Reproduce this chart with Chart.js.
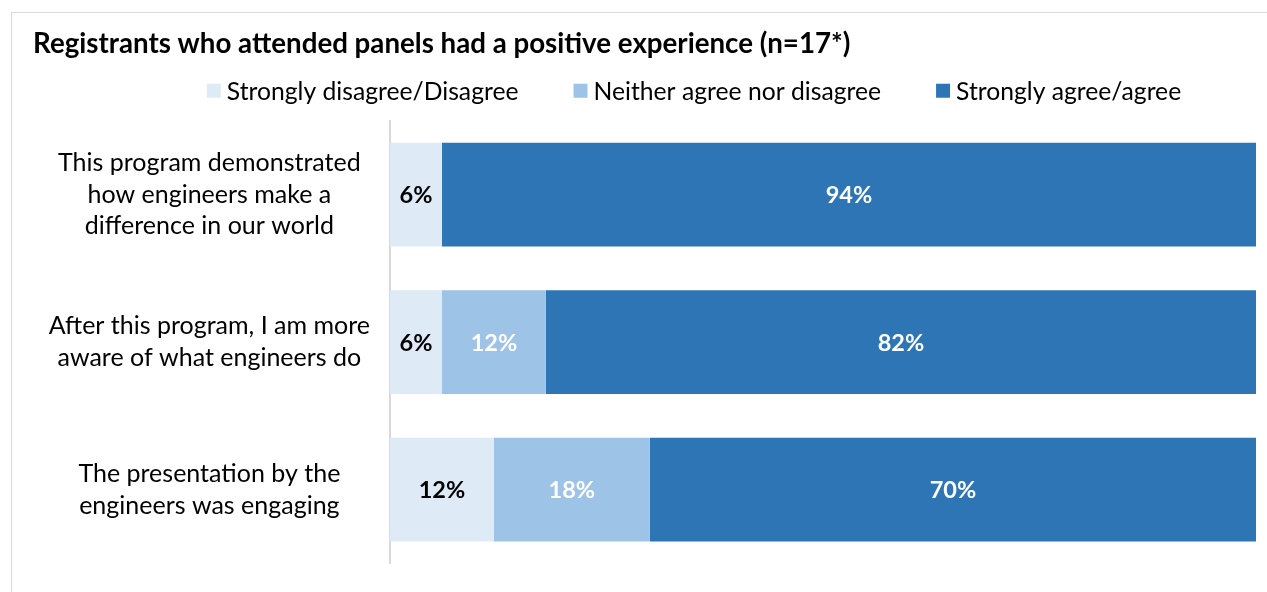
<!DOCTYPE html>
<html>
<head>
<meta charset="utf-8">
<script src="https://cdn.jsdelivr.net/npm/chart.js@4"></script>
<style>
    html, body { margin: 0; padding: 0; background: #fff; overflow: hidden; }
    #frame {
        position: absolute; left: 11px; top: 12px; width: 1300px; height: 640px;
        border-left: 1px solid #d9d9d9; border-top: 1px solid #d9d9d9;
    }
    #box { position: absolute; left: 0; top: 0; width: 1255px; height: 579px; }
</style>
</head>
<body>
<div id="frame"><div id="box"><canvas id="myChart"></canvas></div></div>
<script>
const categories = [
    ['This program demonstrated', 'how engineers make a', 'difference in our world'],
    ['After this program, I am more', 'aware of what engineers do'],
    ['The presentation by the', 'engineers was engaging']
];
const seriesNames = ['Strongly disagree/Disagree', 'Neither agree nor disagree', 'Strongly agree/agree'];
const disagreeValues = [6, 6, 12];
const neutralValues = [0, 12, 18];
const agreeValues = [94, 82, 70];

const FONT = 'Lato';
const COLORS = ['#deebf7', '#9dc3e6', '#2e75b6'];
const LABEL_COLORS = ['#000000', '#ffffff', '#ffffff'];
const LEGEND_CENTER = 682;

// legend drawn by hand so the gaps between items can differ from the row height
const legendPlugin = {
    id: 'wideLegend',
    afterDraw(chart) {
        const ctx = chart.ctx;
        ctx.save();
        ctx.font = '24.7px ' + FONT;
        ctx.textBaseline = 'middle';
        const items = chart.data.datasets.map(ds => ({
            text: ds.label, color: ds.backgroundColor, w: ctx.measureText(ds.label).width
        }));
        const box = 14, gap = 6, itemGap = 55;
        const total = items.reduce((s, it) => s + box + gap + it.w, 0) + itemGap * (items.length - 1);
        let x = LEGEND_CENTER - total / 2;
        const y = chart.chartArea.top - 30;
        items.forEach(it => {
            ctx.fillStyle = it.color;
            ctx.fillRect(x, y - box / 2, box, box);
            ctx.fillStyle = '#000';
            ctx.fillText(it.text, x + box + gap, y + 1);
            x += box + gap + it.w + itemGap;
        });
        ctx.restore();
    }
};

const valueLabels = {
    id: 'valueLabels',
    afterDatasetsDraw(chart) {
        const ctx = chart.ctx;
        ctx.save();
        ctx.font = 'bold 23.5px ' + FONT;
        ctx.textAlign = 'center';
        ctx.textBaseline = 'middle';
        chart.data.datasets.forEach((ds, i) => {
            chart.getDatasetMeta(i).data.forEach((bar, j) => {
                const v = ds.data[j];
                if (!v) return;
                const c = bar.getCenterPoint();
                ctx.fillStyle = LABEL_COLORS[i];
                ctx.fillText(v + '%', c.x, c.y + 1);
            });
        });
        ctx.restore();
    }
};

function drawChart() {
    const ctx = document.getElementById('myChart').getContext('2d');
    new Chart(ctx, {
        type: 'bar',
        data: {
            labels: categories,
            datasets: [disagreeValues, neutralValues, agreeValues].map((vals, i) => ({
                label: seriesNames[i],
                data: vals,
                backgroundColor: COLORS[i],
                borderWidth: 0,
                barPercentage: 0.703,
                categoryPercentage: 1
            }))
        },
        options: {
            indexAxis: 'y',
            responsive: true,
            maintainAspectRatio: false,
            animation: false,
            layout: { padding: { left: 21, right: 11, top: 0, bottom: 28.5 } },
            scales: {
                x: { stacked: true, min: 0, max: 100, display: false },
                y: {
                    stacked: true,
                    grid: { display: false },
                    border: { display: true, color: '#d9d9d9', width: 2 },
                    ticks: {
                        crossAlign: 'center',
                        padding: 12,
                        color: '#000',
                        font: { family: FONT, size: 25, lineHeight: 1.26 }
                    },
                    afterFit(scale) {
                        scale.width = 357;
                        scale.paddingTop = 0;
                        scale.paddingBottom = 0;
                    }
                }
            },
            plugins: {
                legend: { display: false },
                tooltip: { enabled: false },
                title: {
                    display: true,
                    text: 'Registrants who attended panels had a positive experience (n=17*)',
                    align: 'start',
                    color: '#000',
                    font: { family: FONT, size: 27.7, weight: 'bold', lineHeight: 1.2 },
                    padding: { top: 14.5, bottom: 60 }
                }
            }
        },
        plugins: [legendPlugin, valueLabels]
    });
}

drawChart();
</script>
</body>
</html>
